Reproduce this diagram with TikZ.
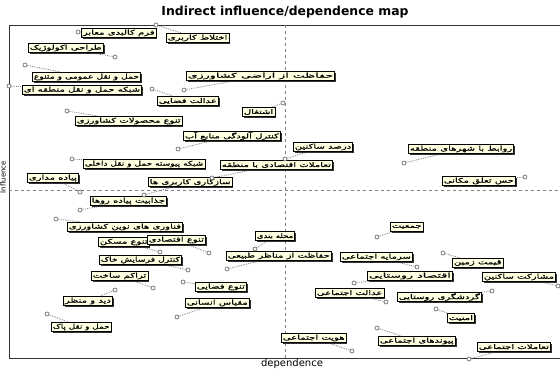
\documentclass[tikz,border=0pt]{standalone}
\usepackage{fontspec}
\setmainfont{DejaVu Sans}
\newfontfamily\fa[Script=Arabic,FakeStretch=1.55,FakeBold=0.6]{DejaVu Sans}
\TeXXeTstate=1
\usetikzlibrary{shadows}
\pgfdeclarelayer{bg}
\pgfdeclarelayer{lead}
\pgfdeclarelayer{top}
\pgfsetlayers{bg,lead,main,top}
\definecolor{boxfill}{HTML}{FFFFE1}
\tikzset{
  vbox/.style={draw=black, line width=0.6pt, fill=boxfill, anchor=west,
    inner xsep=1.5pt, inner ysep=0.8pt, minimum height=9.5pt,
    font=\fa\fontsize{6.5}{7}\selectfont,
    drop shadow={shadow xshift=1.3pt, shadow yshift=-1.3pt, fill=black!80, opacity=1}},
  leader/.style={gray, densely dotted, line width=0.8pt},
  dotmark/.style={draw=black!65, fill=white, line width=0.6pt},
  axisline/.style={gray, dashed, line width=0.5pt},
  frameline/.style={black!80, line width=0.7pt}
}
\newcommand\micmac[4]{%
  \coordinate (#1p) at (#4);
  \node[vbox] (#1) at (#2) {#3};
  \begin{pgfonlayer}{lead}
    \draw[leader] (#1p) -- (#1);
  \end{pgfonlayer}
  \begin{pgfonlayer}{top}
    \filldraw[dotmark] (#1p) circle (2pt);
  \end{pgfonlayer}
}
\begin{document}
\begin{tikzpicture}[x=1pt,y=-1pt]
\useasboundingbox (0,0) rectangle (560,368);
\begin{pgfonlayer}{bg}
  \fill[white] (0,0) rectangle (560,368);
  \coordinate (tl) at (9,25);
  \coordinate (tr) at (560,25);
  \coordinate (bl) at (9,358);
  \coordinate (br) at (560,358);
  \draw[frameline] (tr) -- (tl) -- (bl) -- (br);
  \coordinate (vt) at (285,25);
  \coordinate (vb) at (285,358);
  \coordinate (hl) at (9,190);
  \coordinate (hr) at (560,190);
  \draw[axisline] (vt) -- (vb);
  \draw[axisline] (hl) -- (hr);
\end{pgfonlayer}
\node[font=\bfseries\fontsize{12.4}{14}\selectfont] (title) at (285,12) {Indirect influence/dependence map};
\node[font=\fontsize{10}{12}\selectfont, anchor=base] (xlab) at (292,366.5) {dependence};
\node[font=\fontsize{7}{8}\selectfont, rotate=90] (ylab) at (3,177) {Influence};
\micmac{farm}{81,33}{\beginR فرم کالبدی معابر\endR}{78,32}
\micmac{ekhtelat}{166,38}{\beginR اختلاط کاربری\endR}{156,25}
\micmac{tarahi}{28,48}{\beginR طراحی اکولوژیک\endR}{115,57}
\micmac{hamlomumi}{32,77}{\scalebox{0.92}[1]{\beginR حمل و نقل عمومی و متنوع\endR}}{25,65}
\micmac{shabake}{22,90}{\beginR شبکه حمل و نقل منطقه ای\endR}{9,86}
\micmac{hefazat}{186,76}{\scalebox{1.25}[1]{\beginR حفاظت از اراضی کشاورزی\endR}}{184,90}
\micmac{edalatf}{157,101}{\beginR عدالت فضایی\endR}{152,89}
\micmac{eshteghal}{242,112}{\beginR اشتغال\endR}{283,103}
\micmac{tanavomahsul}{75,121}{\beginR تنوع محصولات کشاورزی\endR}{67,111}
\micmac{kontrolab}{183,136}{\beginR کنترل آلودگی منابع آب\endR}{178,149}
\micmac{shabakepeyvaste}{83,164}{\scalebox{0.9}[1]{\beginR شبکه پیوسته حمل و نقل داخلی\endR}}{72,159}
\micmac{darsad}{293,147}{\beginR درصد ساکنین\endR}{285,159}
\micmac{ravabet}{408,149}{\beginR روابط با شهرهای منطقه\endR}{404,163}
\micmac{hess}{442,181}{\beginR حس تعلق مکانی\endR}{525,177}
\micmac{sazgari}{148,182}{\beginR سازگاری کاربری ها\endR}{144,195}
\micmac{taamolateqt}{220,165}{\beginR تعاملات اقتصادی با منطقه\endR}{212,178}
\micmac{piade}{27,178}{\beginR پیاده مداری\endR}{80,192}
\micmac{jazabiat}{90,201}{\beginR جذابیت پیاده روها\endR}{80,210}
\micmac{fanavari}{67,227}{\beginR فناوری های نوین کشاورزی\endR}{56,219}
\micmac{tanavomaskan}{98,242}{\beginR تنوع مسکن\endR}{160,252}
\micmac{tanavoeqt}{147,240}{\beginR تنوع اقتصادی\endR}{209,253}
\micmac{kontrolfarsayesh}{99,260}{\scalebox{0.92}[1]{\beginR کنترل فرسایش خاک\endR}}{188,270}
\micmac{tarakom}{91,276}{\beginR تراکم ساخت\endR}{153,288}
\micmac{did}{63,301}{\beginR دید و منظر\endR}{115,290}
\micmac{hamlpak}{51,327}{\scalebox{0.88}[1]{\beginR حمل و نقل پاک\endR}}{47,314}
\micmac{tanavofaza}{195,287}{\beginR تنوع فضایی\endR}{183,282}
\micmac{meghyas}{185,303}{\beginR مقیاس انسانی\endR}{177,317}
\micmac{hefazatmanazer}{226,256}{\beginR حفاظت از مناظر طبیعی\endR}{227,269}
\micmac{mahalle}{255,236}{\scalebox{0.85}[1]{\beginR محله بندی\endR}}{255,249}
\micmac{jamiat}{390,227}{\beginR جمعیت\endR}{377,237}
\micmac{sarmaye}{340,257}{\beginR سرمایه اجتماعی\endR}{417,267}
\micmac{eqtesadrusta}{367,276}{\scalebox{1.25}[1]{\beginR اقتصاد روستایی\endR}}{354,283}
\micmac{edalatejt}{315,293}{\beginR عدالت اجتماعی\endR}{386,302}
\micmac{gheymat}{452,263}{\beginR قیمت زمین\endR}{443,253}
\micmac{mosharekat}{482,277}{\beginR مشارکت ساکنین\endR}{558,286}
\micmac{gardeshgari}{397,297}{\beginR گردشگری روستایی\endR}{492,291}
\micmac{amniat}{447,318}{\beginR امنیت\endR}{436,309}
\micmac{hoviat}{281,338}{\beginR هویت اجتماعی\endR}{352,351}
\micmac{peyvand}{378,341}{\beginR پیوندهای اجتماعی\endR}{377,328}
\micmac{taamolatejt}{477,347}{\beginR تعاملات اجتماعی\endR}{469,359}
\end{tikzpicture}
\end{document}
